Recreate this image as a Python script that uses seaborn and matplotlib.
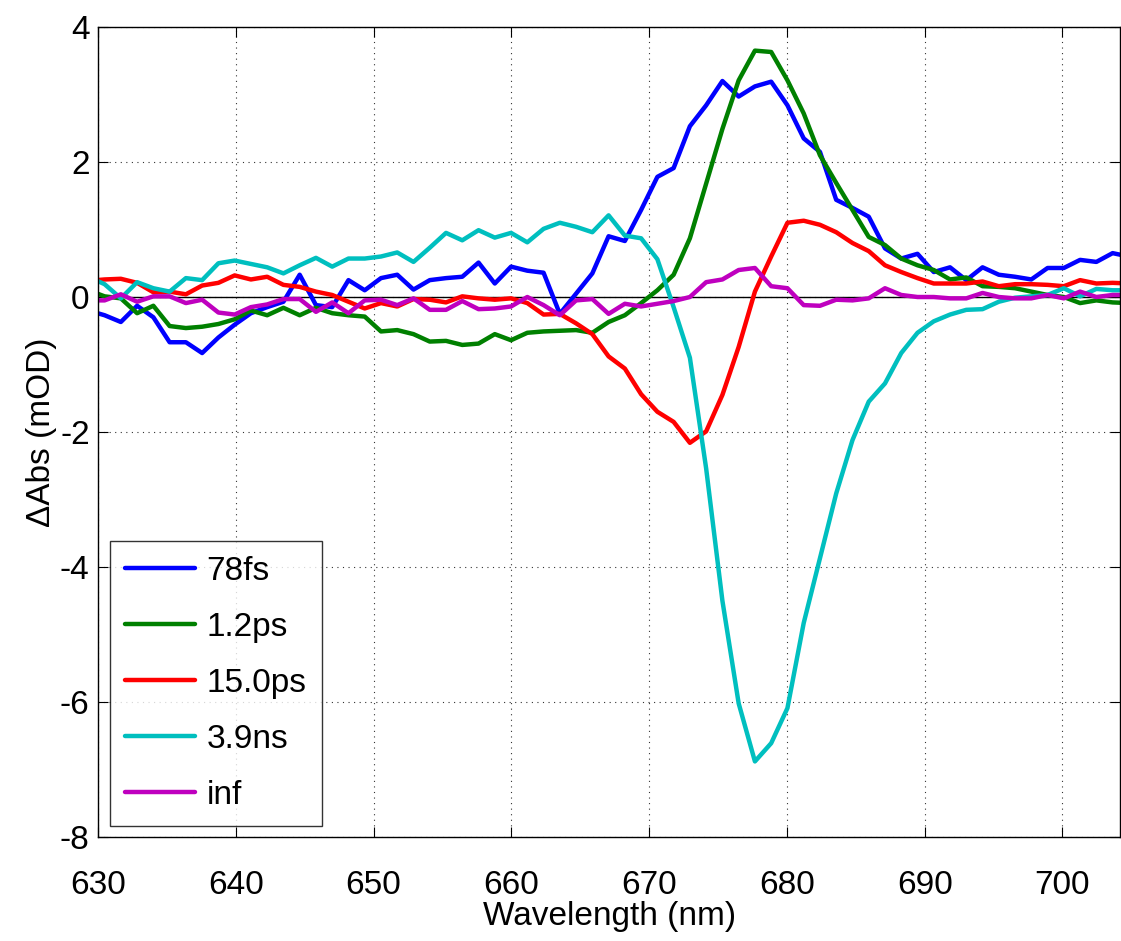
import numpy as np
import pandas as pd
import matplotlib
matplotlib.use("Agg")
import matplotlib.pyplot as plt
import seaborn as sns

wavelength = [629.30, 630.48, 631.66, 632.84, 634.02, 635.20, 636.38, 637.56, 638.74, 639.92,
              641.10, 642.28, 643.46, 644.64, 645.82, 647.00, 648.18, 649.36, 650.54, 651.72,
              652.90, 654.08, 655.26, 656.44, 657.62, 658.80, 659.98, 661.16, 662.34, 663.52,
              664.70, 665.88, 667.06, 668.24, 669.42, 670.60, 671.78, 672.96, 674.14, 675.32,
              676.50, 677.68, 678.86, 680.04, 681.22, 682.40, 683.58, 684.76, 685.94, 687.12,
              688.30, 689.48, 690.66, 691.84, 693.02, 694.20, 695.38, 696.56, 697.74, 698.92,
              700.10, 701.28, 702.46, 703.64, 704.82]

s_78fs = [-0.20, -0.27, -0.37, -0.13, -0.30, -0.67, -0.67, -0.83, -0.60, -0.41,
          -0.24, -0.15, -0.07, 0.33, -0.12, -0.15, 0.25, 0.10, 0.28, 0.33,
          0.11, 0.25, 0.28, 0.30, 0.51, 0.20, 0.45, 0.39, 0.36, -0.25,
          0.05, 0.35, 0.90, 0.83, 1.29, 1.78, 1.91, 2.53, 2.84, 3.20,
          2.97, 3.12, 3.19, 2.84, 2.35, 2.15, 1.44, 1.32, 1.19, 0.72,
          0.57, 0.64, 0.37, 0.44, 0.25, 0.44, 0.33, 0.30, 0.26, 0.43,
          0.43, 0.55, 0.52, 0.65, 0.60]

s_1p2ps = [0.10, 0.01, -0.02, -0.24, -0.13, -0.43, -0.46, -0.44, -0.40, -0.33,
           -0.20, -0.27, -0.16, -0.27, -0.16, -0.24, -0.27, -0.29, -0.51, -0.49,
           -0.55, -0.66, -0.65, -0.71, -0.69, -0.55, -0.64, -0.53, -0.51, -0.50,
           -0.49, -0.53, -0.37, -0.27, -0.09, 0.10, 0.33, 0.87, 1.68, 2.49,
           3.21, 3.65, 3.63, 3.21, 2.72, 2.10, 1.69, 1.29, 0.89, 0.77,
           0.57, 0.47, 0.40, 0.26, 0.29, 0.16, 0.15, 0.13, 0.08, 0.03,
           0.00, -0.09, -0.05, -0.08, -0.09]

s_15ps = [0.24, 0.26, 0.27, 0.21, 0.07, 0.08, 0.04, 0.17, 0.21, 0.32,
          0.26, 0.30, 0.18, 0.15, 0.08, 0.03, -0.07, -0.17, -0.09, -0.14,
          -0.03, -0.04, -0.08, 0.01, -0.02, -0.04, -0.02, -0.09, -0.26, -0.25,
          -0.39, -0.55, -0.88, -1.06, -1.44, -1.70, -1.85, -2.16, -1.99, -1.45,
          -0.74, 0.08, 0.60, 1.10, 1.13, 1.07, 0.96, 0.80, 0.68, 0.47,
          0.37, 0.28, 0.20, 0.20, 0.20, 0.23, 0.16, 0.19, 0.19, 0.18,
          0.16, 0.25, 0.20, 0.21, 0.20]

s_3p9ns = [0.30, 0.19, -0.02, 0.22, 0.13, 0.08, 0.28, 0.25, 0.50, 0.54,
           0.49, 0.44, 0.35, 0.47, 0.58, 0.45, 0.57, 0.57, 0.60, 0.66,
           0.52, 0.73, 0.95, 0.84, 0.99, 0.88, 0.95, 0.81, 1.01, 1.10,
           1.04, 0.96, 1.21, 0.91, 0.87, 0.56, -0.15, -0.90, -2.54, -4.50,
           -6.02, -6.88, -6.61, -6.09, -4.83, -3.87, -2.91, -2.12, -1.55, -1.28,
           -0.83, -0.53, -0.36, -0.26, -0.19, -0.18, -0.07, -0.01, 0.01, 0.03,
           0.13, 0.01, 0.12, 0.10, 0.10]

s_inf = [-0.05, -0.05, 0.04, -0.07, 0.01, 0.01, -0.09, -0.04, -0.23, -0.26,
         -0.15, -0.11, -0.03, -0.03, -0.22, -0.08, -0.24, -0.05, -0.04, -0.12,
         -0.02, -0.19, -0.19, -0.06, -0.18, -0.17, -0.14, 0.00, -0.12, -0.27,
         -0.05, -0.03, -0.25, -0.10, -0.14, -0.10, -0.06, 0.00, 0.22, 0.26,
         0.40, 0.43, 0.16, 0.13, -0.12, -0.13, -0.04, -0.05, -0.02, 0.13,
         0.03, 0.00, 0.00, -0.02, -0.02, 0.06, 0.00, -0.02, -0.02, 0.03,
         -0.02, 0.08, 0.00, 0.03, 0.03]

labels = ["78fs", "1.2ps", "15.0ps", "3.9ns", "inf"]
colors = ["#0000ff", "#008000", "#ff0000", "#00bfbf", "#bf00bf"]
series = [s_78fs, s_1p2ps, s_15ps, s_3p9ns, s_inf]

x_ticks = [630, 640, 650, 660, 670, 680, 690, 700]
y_ticks = [-8, -6, -4, -2, 0, 2, 4]

frames = []
for lab, vals in zip(labels, series):
    frames.append(pd.DataFrame({"Wavelength": wavelength, "dAbs": vals, "Component": lab}))
df = pd.concat(frames, ignore_index=True)

sns.set_style("white")
plt.rcParams["font.family"] = ["Liberation Sans", "DejaVu Sans"]
plt.rcParams["text.color"] = "black"
plt.rcParams["axes.labelcolor"] = "black"
plt.rcParams["xtick.color"] = "black"
plt.rcParams["ytick.color"] = "black"

fig = plt.figure(figsize=(11.21, 9.41), dpi=100)
ax = fig.add_axes([0.0874, 0.1105, 0.912, 0.8608])

sns.lineplot(data=df, x="Wavelength", y="dAbs", hue="Component", hue_order=labels,
             palette=colors, linewidth=3.2, ax=ax, sort=False, estimator=None)

ax.axhline(0, color="black", linewidth=1.0, zorder=1)

ax.set_xlim(630, 704.2)
ax.set_ylim(-8, 4)
ax.set_xticks(x_ticks)
ax.set_yticks(y_ticks)
ax.set_xticklabels([str(t) for t in x_ticks])
ax.set_yticklabels([str(t) for t in y_ticks])
ax.tick_params(axis="both", direction="in", length=7, width=0.8, labelsize=24,
               top=True, right=True, bottom=True, left=True,
               labelcolor="black", color="black")
ax.tick_params(axis="x", pad=24)
ax.tick_params(axis="y", pad=6)
ax.grid(True, linestyle=(0, (1, 4)), color="black", linewidth=0.8, alpha=0.8)
for sp in ax.spines.values():
    sp.set_color("black")
    sp.set_linewidth(1.0)

ax.set_xlabel("Wavelength (nm)", fontsize=24, labelpad=0, color="black")
ax.set_ylabel("\u0394Abs (mOD)", fontsize=24, labelpad=2, color="black")

leg = ax.legend(loc="lower left", fontsize=24, frameon=True, fancybox=False,
                edgecolor="black", handlelength=2.1, handletextpad=0.35,
                labelspacing=0.75, borderpad=0.45, borderaxespad=0,
                bbox_to_anchor=(0.0117, 0.0136))
leg.get_frame().set_linewidth(1.0)
for h in leg.get_lines():
    h.set_linewidth(3.2)
for t in leg.get_texts():
    t.set_color("black")

fig.savefig("out.png", dpi=100)
